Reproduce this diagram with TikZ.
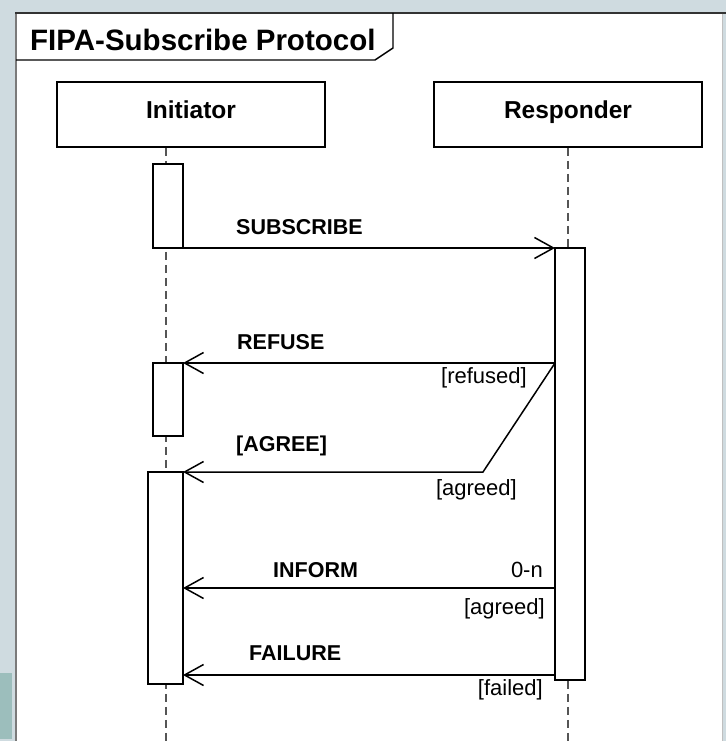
\documentclass[tikz,border=0pt]{standalone}
\usepackage{fontspec}
\setmainfont{Liberation Sans}
\usetikzlibrary{arrows.meta}
\definecolor{bgblue}{HTML}{CFDBE0}
\definecolor{bgteal}{HTML}{9CBEBC}
\definecolor{framegray}{HTML}{7A7A7A}
\definecolor{lifegray}{HTML}{555555}

\begin{document}
\begin{tikzpicture}[x=1pt,y=-1pt,
  lifebox/.style={draw=black, line width=1.5pt, fill=white, inner sep=0pt,
    minimum width=268pt, minimum height=65pt, text height=12pt, text depth=5pt,
    font=\fontsize{24.5}{28}\selectfont\bfseries},
  act/.style={draw=black, line width=1.4pt, fill=white, inner sep=0pt, outer sep=0pt, anchor=north west},
  lifeline/.style={draw=lifegray, line width=1.4pt, dash pattern=on 8pt off 5pt},
  msg/.style={draw=black, line width=1.5pt,
    -{Straight Barb[length=19pt,width=21pt,line width=1.5pt]}},
  msglabel/.style={inner sep=0pt, anchor=base west, font=\fontsize{21.5}{24}\selectfont\bfseries},
  guard/.style={inner sep=0pt, anchor=base east, font=\fontsize{22}{24}\selectfont},
]
\useasboundingbox (0,0) rectangle (726,741);

% page background and frame
\fill[bgblue] (0,0) rectangle (726,741);
\fill[bgteal] (0,673) rectangle (12,739);
\fill[white] (15,12) rectangle (723,741);
\draw[framegray, line width=2pt] (16,12) -- (16,741);
\draw[black!80, line width=1.8pt] (15,13) -- (726,13);
\draw[black!25, line width=1pt] (722.5,14) -- (722.5,741);

% title tab
\draw[line width=1.4pt] (16,60) -- (375,60) -- (393,48) -- (393,13);
\node[inner sep=0pt, anchor=base west, font=\fontsize{29.5}{32}\selectfont\bfseries]
  (title) at (30,51) {FIPA-Subscribe Protocol};

% lifeline heads
\node[lifebox] (init) at (191,114.5) {Initiator};
\node[lifebox] (resp) at (568,114.5) {Responder};

% lifelines
\coordinate (iEnd) at (166,741);
\coordinate (rEnd) at (568,741);
\draw[lifeline] (init.south -| iEnd) -- (iEnd);
\draw[lifeline] (resp.south) -- (rEnd);

% activation bars
\node[act, minimum width=30pt, minimum height=84pt]  (a1) at (153,164) {};
\node[act, minimum width=30pt, minimum height=432pt] (r1) at (555,248) {};
\node[act, minimum width=30pt, minimum height=73pt]  (a2) at (153,363) {};
\node[act, minimum width=35pt, minimum height=212pt] (a3) at (148,472) {};

% helper coordinates
\coordinate (bend) at (483,472);
\coordinate (yInform) at (0,588);
\coordinate (yFail) at (0,675);

% messages
\draw[msg] (a1.south east) -- (r1.north west);
\draw[msg] (r1.west |- a2.north) -- (a2.north east);
\draw[msg] (r1.west |- a2.north) -- (bend) -- (a3.north east);
\draw[msg] (r1.west |- yInform) -- (a3.east |- yInform);
\draw[msg] (r1.west |- yFail) -- (a3.east |- yFail);

% message labels and guards
\node[msglabel] (lsub)  at (236,234) {SUBSCRIBE};
\node[msglabel] (lref)  at (237,349) {REFUSE};
\node[guard]    (gref)  at (527,383) {[refused]};
\node[msglabel] (lagr)  at (236,451) {[AGREE]};
\node[guard]    (gagr)  at (517,495) {[agreed]};
\node[msglabel] (linf)  at (273,577) {INFORM};
\node[guard]    (mult)  at (543,577) {0-n};
\node[guard]    (ginf)  at (545,614) {[agreed]};
\node[msglabel] (lfail) at (249,660) {FAILURE};
\node[guard]    (gfail) at (543,695) {[failed]};
\end{tikzpicture}
\end{document}
